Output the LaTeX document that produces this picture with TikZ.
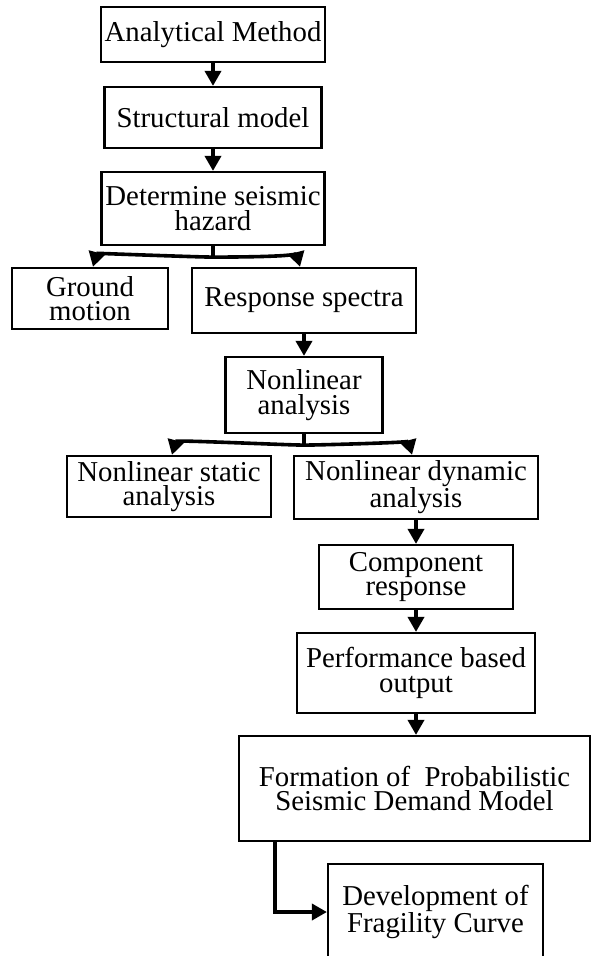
\documentclass[tikz,border=0pt]{standalone}
\usepackage{fontspec}
\setmainfont{Liberation Serif}
\usetikzlibrary{arrows.meta}

\begin{document}
\begin{tikzpicture}[x=1pt, y=1pt,
    box/.style={draw, line width=2.2pt, inner sep=0pt, align=center,
      font=\fontsize{28.8}{24.5}\selectfont},
    flow/.style={line width=3.6pt, -{Triangle[width=16pt, length=15pt]}},
    trunk/.style={line width=3.6pt}]
  \useasboundingbox (0,0) rectangle (591,-956);

  \node[box, minimum width=224pt, minimum height=55pt] (method) at (213,-34.5) {Analytical Method};
  \node[box, minimum width=217pt, minimum height=61pt] (model) at (213,-117.5) {Structural model};
  \node[box, minimum width=223pt, minimum height=73pt] (hazard) at (213,-208.5) {Determine seismic\\hazard};
  \node[box, minimum width=156pt, minimum height=61pt] (ground) at (90,-298.5) {Ground\\motion};
  \node[box, minimum width=224pt, minimum height=65pt] (spectra) at (304,-300.5) {Response spectra};
  \node[box, minimum width=157pt, minimum height=76pt] (nonlin) at (304,-395) {Nonlinear\\analysis};
  \node[box, minimum width=204pt, minimum height=61pt] (static) at (169,-486.5) {Nonlinear static\\analysis};
  \node[box, minimum width=244pt, minimum height=63pt] (dynamic) at (416,-487.5) {Nonlinear dynamic\\analysis};
  \node[box, minimum width=194pt, minimum height=64pt] (component) at (416,-577) {Component\\response};
  \node[box, minimum width=238pt, minimum height=80pt] (perf) at (416,-673) {Performance based\\output};
  \node[box, minimum width=351pt, minimum height=105pt] (psdm) at (414.5,-788.5) {Formation of~ Probabilistic\\Seismic Demand Model};
  \node[box, minimum width=215pt, minimum height=96pt] (frag) at (435.5,-912) {Development of\\Fragility Curve};

  \draw[flow] (method.south) -- (model.north);
  \draw[flow] (model.south) -- (hazard.north);

  \coordinate (hz) at ([yshift=-11pt]hazard.south);
  \draw[trunk] (hazard.south) -- (hz);
  \draw[flow] (hz) to[out=180, in=75, looseness=0.3] ([xshift=3pt]ground.north);
  \draw[flow] (hz) to[out=0, in=105, looseness=0.3] ([xshift=-4pt]spectra.north);

  \draw[flow] (spectra.south) -- (nonlin.north);

  \coordinate (nl) at ([yshift=-11pt]nonlin.south);
  \draw[trunk] (nonlin.south) -- (nl);
  \draw[flow] (nl) to[out=180, in=75, looseness=0.3] ([xshift=3pt]static.north);
  \draw[flow] (nl) to[out=0, in=105, looseness=0.3] ([xshift=-4pt]dynamic.north);

  \draw[flow] (dynamic.south) -- (component.north);
  \draw[flow] (component.south) -- (perf.north);
  \draw[flow] (perf.south) -- (perf.south |- psdm.north);
  \draw[flow] ([xshift=37pt]psdm.south west) |- (frag.west);
\end{tikzpicture}
\end{document}
